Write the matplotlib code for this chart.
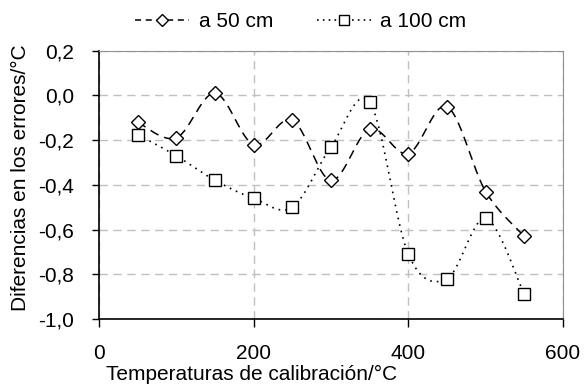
import numpy as np
import matplotlib
matplotlib.use("Agg")
import matplotlib.pyplot as plt
from matplotlib.ticker import FuncFormatter

plt.rcParams['font.family'] = ['Liberation Sans', 'DejaVu Sans']

temps = [50, 100, 150, 200, 250, 300, 350, 400, 450, 500, 550]
a50 = [-0.12, -0.19, 0.01, -0.22, -0.11, -0.38, -0.15, -0.26, -0.05, -0.43, -0.63]
a100 = [-0.175, -0.27, -0.38, -0.46, -0.50, -0.23, -0.03, -0.71, -0.82, -0.55, -0.89]
labels = ['a 50 cm', 'a 100 cm']
xticks = [0, 200, 400, 600]
yticks = [-1.0, -0.8, -0.6, -0.4, -0.2, 0.0, 0.2]


def smooth(x, y, n=30):
    # Excel-like smoothed line (Catmull-Rom Bezier through the points)
    x = np.asarray(x, float)
    y = np.asarray(y, float)
    P = np.column_stack([x, y])
    Pe = np.vstack([P[0], P, P[-1]])
    out = []
    t = np.linspace(0, 1, n)[:, None]
    for i in range(len(P) - 1):
        p0, p1, p2, p3 = Pe[i], Pe[i + 1], Pe[i + 2], Pe[i + 3]
        c1 = p1 + (p2 - p0) / 6
        c2 = p2 - (p3 - p1) / 6
        seg = ((1 - t) ** 3) * p1 + 3 * ((1 - t) ** 2) * t * c1 + 3 * (1 - t) * t ** 2 * c2 + t ** 3 * p2
        out.append(seg if i == 0 else seg[1:])
    S = np.vstack(out)
    return S[:, 0], S[:, 1]


FS = 15

fig = plt.figure(figsize=(5.84, 3.90), dpi=100)
ax = fig.add_axes([0.1695, 0.182, 0.7945, 0.688])

sx, sy = smooth(temps, a50)
ax.plot(sx, sy, color='black', lw=1.1, dashes=(6, 4), zorder=3)
ax.plot(temps, a50, linestyle='none', marker='D', ms=7, mfc='white', mec='black', mew=1.0, zorder=4)

sx, sy = smooth(temps, a100)
ax.plot(sx, sy, color='black', lw=1.2, dashes=(1, 3), zorder=3)
ax.plot(temps, a100, linestyle='none', marker='s', ms=8, mfc='white', mec='black', mew=1.0, zorder=4)

# legend handles
h1, = ax.plot([], [], color='black', lw=1.1, dashes=(4, 3), marker='D', ms=6, mfc='white', mec='black')
h2, = ax.plot([], [], color='black', lw=1.2, dashes=(1, 2.5), marker='s', ms=6.5, mfc='white', mec='black')
fig.legend([h1, h2], labels, loc='center', bbox_to_anchor=(0.515, 0.945), ncol=2, frameon=False,
           fontsize=FS, handlelength=2.6, handletextpad=0.45, columnspacing=2.1)

ax.set_xlim(0, 600)
ax.set_ylim(-1.0, 0.2)
ax.set_xticks(xticks)
ax.set_yticks(yticks)
ax.yaxis.set_major_formatter(FuncFormatter(lambda v, p: f"{v:.1f}".replace('.', ',')))
ax.tick_params(labelsize=FS, direction='out', width=1, color='black')
ax.tick_params(axis='x', length=6, pad=12)
ax.tick_params(axis='y', length=5, pad=13)
ax.grid(True, color='#c0c0c0', linestyle=(0, (6, 4)), lw=1)
ax.set_axisbelow(True)

for s in ['top', 'right']:
    ax.spines[s].set_color('#909090')
for s in ['left', 'bottom']:
    ax.spines[s].set_color('black')
    ax.spines[s].set_linewidth(1.2)

ax.set_xlabel('Temperaturas de calibración/°C', fontsize=FS, labelpad=0)
ax.xaxis.set_label_coords(0.328, -0.172)
ax.set_ylabel('Diferencias en los errores/°C', fontsize=FS)
ax.yaxis.set_label_coords(-0.148, 0.525)

fig.savefig('out.png', dpi=100)
